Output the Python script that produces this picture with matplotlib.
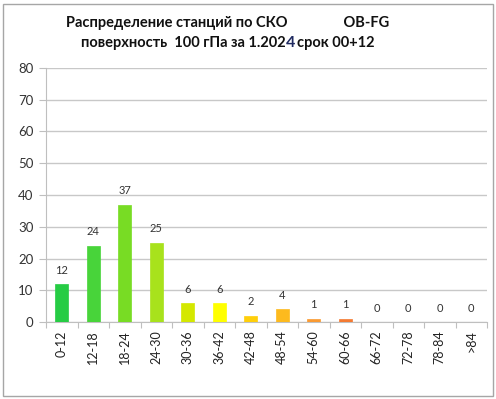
import matplotlib
matplotlib.use("Agg")
import matplotlib.pyplot as plt
from matplotlib.patches import Rectangle

categories = ["0-12", "12-18", "18-24", "24-30", "30-36", "36-42", "42-48",
              "48-54", "54-60", "60-66", "66-72", "72-78", "78-84", ">84"]
values = [12, 24, 37, 25, 6, 6, 2, 4, 1, 1, 0, 0, 0, 0]
colors = ["#26CC44", "#48D43A", "#78DC24", "#A8E21C", "#D4E800", "#FFFF00",
          "#FFCF0A", "#FDBA1E", "#FA9A32", "#F47A32", "#F06030", "#F06030",
          "#F06030", "#F06030"]
yticks = [0, 10, 20, 30, 40, 50, 60, 70, 80]

plt.rcParams['font.family'] = ['Lato', 'Noto Sans', 'DejaVu Sans']

fig = plt.figure(figsize=(4.96, 3.99), dpi=100)
fig.patch.set_facecolor("white")
ax = fig.add_axes([46/496, 1-322/399, 441/496, 254/399])

x = list(range(len(categories)))
ax.bar(x, values, width=0.41, color=colors, edgecolor=colors, linewidth=0.5, zorder=3)
for xi, v in zip(x, values):
    ax.annotate(str(v), (xi, v), xytext=(0, 6), textcoords="offset points",
                ha="center", va="bottom", fontsize=8, color="#333333")

ax.set_xlim(-0.5, len(categories) - 0.5)
ax.set_ylim(0, 80)
ax.set_yticks(yticks)
ax.set_yticklabels([str(t) for t in yticks], fontsize=9.5, color="#333333")
ax.set_xticks([i + 0.5 for i in range(len(categories) - 1)] + [-0.5, len(categories) - 0.5])
ax.set_xticklabels([""] * (len(categories) + 1))
ax.set_xticks(x, minor=True)
ax.set_xticklabels(categories, minor=True, rotation=90, fontsize=9, color="#222222")
ax.tick_params(axis="x", which="minor", length=0, pad=6)
ax.tick_params(axis="x", which="major", length=4, color="#BFBFBF", direction="out")
ax.tick_params(axis="y", length=5, color="#BFBFBF", direction="out", pad=4)
ax.grid(axis="y", color="#C8C8C8", linewidth=1.0, zorder=0)
for s in ["top", "right"]:
    ax.spines[s].set_visible(False)
ax.spines["left"].set_color("#BFBFBF")
ax.spines["bottom"].set_color("#BFBFBF")

# title
W, H = 496, 399
fig.text(228/W, 1-27/H, "Распределение станций по СКО                OB-FG",
         ha="center", va="baseline", fontsize=10.5, fontweight="bold", color="#111111")
fig.canvas.draw()
r = fig.canvas.get_renderer()
parts = [("поверхность  100 гПа за 1.202", "#111111", 10.5),
         ("4", "#1F2A60", 11.5),
         ("срок 00+12", "#111111", 10.5)]
texts = []
for s, c, fs in parts:
    t = fig.text(0, 1-47/H, s, ha="left", va="baseline", fontsize=fs,
                 fontweight="bold", color=c)
    texts.append(t)
widths = [t.get_window_extent(r).width for t in texts]
gap = 1.0
total = sum(widths) + gap * (len(widths) - 1)
xpos = 227.5 - total / 2
for t, w in zip(texts, widths):
    t.set_x(xpos / W)
    xpos += w + gap

fig.patches.append(Rectangle((3/W, 3/H), 490/W, 392/H, transform=fig.transFigure,
                             fill=False, edgecolor="#A6A6A6", linewidth=1.0))

fig.savefig("out.png", dpi=100)
